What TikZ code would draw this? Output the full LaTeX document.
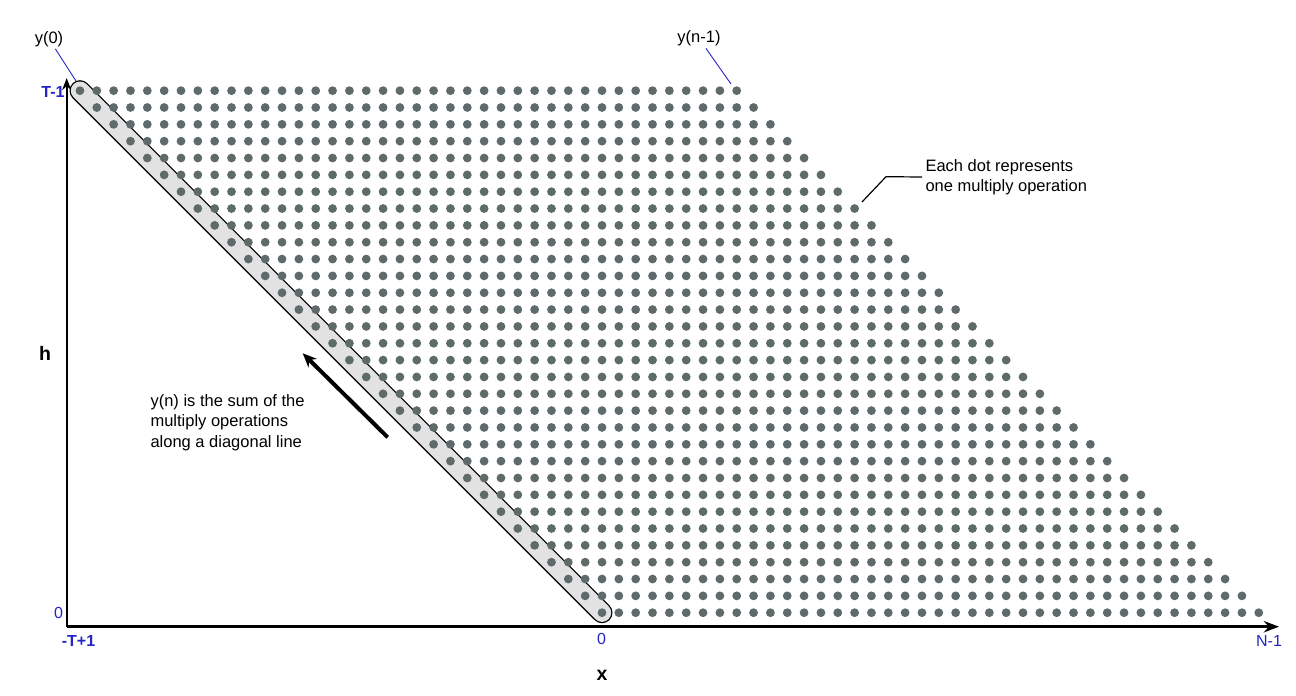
\documentclass[tikz,border=0pt]{standalone}
\usepackage{fontspec}
\setmainfont{Liberation Sans}
\usepackage{tikz}
\usetikzlibrary{
  arrows.meta,
  positioning,
}

\definecolor{DotGray}{HTML}{5F6A6A}
\definecolor{TickBlue}{HTML}{2424C8}
\definecolor{BandGray}{HTML}{E2E2E2}

\begin{document}
\begin{tikzpicture}[
  x=1pt, y=-1pt,
  >=Stealth,
  opdot/.style={fill=DotGray},
  axisline/.style={->, line width=2pt, black},
  ticklbl/.style={font=\fontsize{16}{19}\selectfont, text=TickBlue, inner sep=1pt},
  boldtick/.style={ticklbl, font=\fontsize{16}{19}\selectfont\bfseries},
  axislbl/.style={font=\fontsize{19.5}{22}\selectfont\bfseries, inner sep=1pt},
  note/.style={font=\fontsize{16.5}{20.5}\selectfont, align=left},
  leader/.style={line width=0.9pt, TickBlue},
  callout/.style={line width=1.2pt, black},
  sumarrow/.style={-{Stealth[length=14pt, width=12pt]}, line width=4pt, black},
]
\useasboundingbox (0,0) rectangle (1296,696);

% ── Axes ────────────────────────────────────────────────────────────
\coordinate (origin) at (66.7,626.7);
\coordinate (xend)   at (1279,626.7);
\coordinate (yend)   at (66.7,78);
\draw[axisline, line width=2.7pt] (origin) -- (xend);
\draw[axisline] (origin) -- (yend);

\node[boldtick] (tmax)  at (53,92) {T-1};
\node[ticklbl]  (hzero) at (58.5,613) {0};
\node[boldtick] (tmin)  at (78.5,641) {-T+1};
\node[ticklbl]  (xzero) at (601.5,639) {0};
\node[ticklbl]  (nmax)  at (1269,641) {N-1};
\node[axislbl]  (xlbl)  at (602,675.5) {x};
\node[axislbl]  (hlbl)  at (45,353.5) {h};

% ── Diagonal band ───────────────────────────────────────────────────
\coordinate (diagtop) at (80,90.7);
\coordinate (diagbot) at (602,612.7);
\draw[line width=21pt, line cap=round, black] (diagtop) -- (diagbot);
\draw[line width=18.4pt, line cap=round, BandGray] (diagtop) -- (diagbot);

% ── Multiply operations ─────────────────────────────────────────────
\foreach \r in {0,...,31}
  \foreach \k in {0,...,39}
    \fill[opdot] ({602+(\k-\r)*16.84},{612.7-\r*16.84}) circle (4.4pt);

% ── Output labels ───────────────────────────────────────────────────
\node[note, inner sep=2pt] (yfirst) at (49,39) {y(0)};
\node[note, inner sep=2pt] (ylast)  at (699,38.5) {y(n-1)};
\coordinate (yfirsttip) at (76,81);
\coordinate (ylasttip)  at (731,84);
\draw[leader] (yfirst) -- (yfirsttip);
\draw[leader] (ylast) -- (ylasttip);

% ── Notes ───────────────────────────────────────────────────────────
\node[note, anchor=west] (dotnote) at (922,177)
  {Each dot represents\\one multiply operation};
\coordinate (dotelbow) at (886,176.7);
\coordinate (dottip)   at (862,202);
\draw[callout] (dotnote.west) -- (dotelbow) -- (dottip);

\node[note, anchor=west] (sumnote) at (147,422.5)
  {y(n) is the sum of the\\multiply operations\\along a diagonal line};
\coordinate (sumtail) at (387.7,437.3);
\coordinate (sumhead) at (302.7,353.3);
\draw[sumarrow] (sumtail) -- (sumhead);

\end{tikzpicture}
\end{document}
